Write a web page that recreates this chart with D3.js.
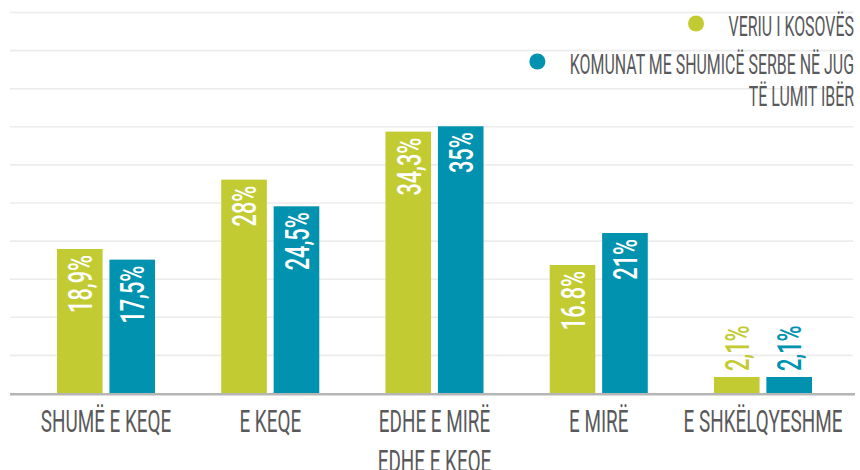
<!DOCTYPE html>
<html>
<head>
<meta charset="utf-8">
<script src="https://cdn.jsdelivr.net/npm/d3@7"></script>
<style>
	body { margin: 0; background: #fff; }
	svg { display: block; font-family: Roboto, "Noto Sans", sans-serif; }
</style>
</head>
<body>
<div id="chart"></div>
<script>
///////////////////////////////////////////////////////////////////////////
//////////////////////////// data /////////////////////////////////////////
///////////////////////////////////////////////////////////////////////////

// "|" marks a line break in a label
const categories = ["SHUMË E KEQE", "E KEQE", "EDHE E MIRË|EDHE E KEQE", "E MIRË", "E SHKËLQYESHME"];
const seriesNames = ["VERIU I KOSOVËS", "KOMUNAT ME SHUMICË SERBE NË JUG|TË LUMIT IBËR"];
const veriuValues = [18.9, 28, 34.3, 16.8, 2.1];
const jugValues = [17.5, 24.5, 35, 21, 2.1];
const veriuLabels = ["18,9%", "28%", "34,3%", "16.8%", "2,1%"];
const jugLabels = ["17,5%", "24,5%", "35%", "21%", "2,1%"];
const gridTicks = [5, 10, 15, 20, 25, 30, 35, 40, 45, 50];

const colors = ["#c3cb33", "#0092ae"];
const textGrey = "#59595b";

const createChart = () => {
	const width = 860;
	const height = 470;

	const series = [
		{ name: seriesNames[0], values: veriuValues, labels: veriuLabels },
		{ name: seriesNames[1], values: jugValues, labels: jugLabels }
	];

	const svg = d3.select("#chart").append("svg")
		.attr("width", width)
		.attr("height", height);

	//////////////////////////// scales ///////////////////////////////////////

	const yScale = d3.scaleLinear().domain([0, 50]).range([393, 12]);

	const xScale = d3.scaleBand()
		.domain(categories)
		.range([57, 812])
		.paddingInner(0.403)
		.paddingOuter(0);

	const xSub = d3.scaleBand()
		.domain([0, 1])
		.range([0, xScale.bandwidth()])
		.paddingInner(0.13);

	//////////////////////////// grid /////////////////////////////////////////

	const grid = svg.append("g")
		.attr("transform", "translate(10,0)")
		.call(d3.axisLeft(yScale).tickValues(gridTicks).tickSize(-843).tickFormat(""));
	grid.select(".domain").remove();
	grid.selectAll(".tick line").attr("stroke", "#ececec").attr("stroke-width", 1.6);

	//////////////////////////// bars /////////////////////////////////////////

	const groups = svg.selectAll(".group")
		.data(categories)
		.enter()
		.append("g")
		.attr("class", "group")
		.attr("transform", (d) => `translate(${xScale(d)},0)`);

	const cells = groups.selectAll(".cell")
		.data((d, i) => series.map((s, j) => ({ j, value: s.values[i], label: s.labels[i] })))
		.enter()
		.append("g")
		.attr("class", "cell");

	cells.append("rect")
		.attr("x", (d) => xSub(d.j))
		.attr("y", (d) => yScale(d.value))
		.attr("width", xSub.bandwidth())
		.attr("height", (d) => yScale(0) - yScale(d.value))
		.attr("fill", (d) => colors[d.j]);

	const labelScale = 0.64;
	cells.append("text")
		.text((d) => d.label)
		.attr("font-size", 34)
		.attr("font-weight", 500)
		.attr("dy", "0.36em")
		.each(function (d) {
			const len = this.getComputedTextLength() * labelScale;
			const barH = yScale(0) - yScale(d.value);
			const cx = xSub(d.j) + xSub.bandwidth() / 2;
			const inside = barH > len + 14;
			const y = inside ? yScale(d.value) + 6 : yScale(d.value) - 6;
			d3.select(this)
				.attr("text-anchor", inside ? "end" : "start")
				.attr("fill", inside ? "#fff" : colors[d.j])
				.attr("transform", `translate(${cx},${y}) rotate(-90) scale(${labelScale},1)`);
		});

	//////////////////////////// axis /////////////////////////////////////////

	svg.append("line")
		.attr("x1", 10)
		.attr("x2", 855)
		.attr("y1", yScale(0) + 1.2)
		.attr("y2", yScale(0) + 1.2)
		.attr("stroke", "#b5b5b5")
		.attr("stroke-width", 2.5);

	const axisScale = 0.59;
	const xAxis = svg.append("g")
		.attr("transform", `translate(0,${yScale(0)})`)
		.call(d3.axisBottom(xScale).tickSize(0));
	xAxis.select(".domain").remove();
	xAxis.selectAll(".tick text").each(function (d) {
		const t = d3.select(this);
		t.text(null)
			.attr("y", 0)
			.attr("dy", null)
			.attr("font-size", 32)
			.attr("font-family", "Roboto, sans-serif")
			.attr("fill", textGrey)
			.attr("transform", `translate(0,39) scale(${axisScale},1)`);
		d.split("|").forEach((line, k) => {
			t.append("tspan").attr("x", 0).attr("y", k * 40).text(line);
		});
	});

	//////////////////////////// legend ///////////////////////////////////////

	const legendScale = 0.59;
	const legendRight = 854;
	const legendBaselines = [[36], [74, 106]];
	const legendDotGap = 32.5;

	const legend = svg.append("g").attr("class", "legend");
	series.forEach((s, j) => {
		const lines = s.name.split("|");
		let firstLen = 0;
		lines.forEach((line, k) => {
			const txt = legend.append("text")
				.text(line)
				.attr("font-size", 27)
				.attr("fill", textGrey)
				.attr("text-anchor", "end")
				.attr("transform", `translate(${legendRight},${legendBaselines[j][k]}) scale(${legendScale},1)`);
			if (k === 0) firstLen = txt.node().getComputedTextLength() * legendScale;
		});
		legend.append("circle")
			.attr("cx", legendRight - firstLen - legendDotGap)
			.attr("cy", legendBaselines[j][0] - 12.5)
			.attr("r", 8)
			.attr("fill", colors[j]);
	});
};

createChart();
</script>
</body>
</html>
